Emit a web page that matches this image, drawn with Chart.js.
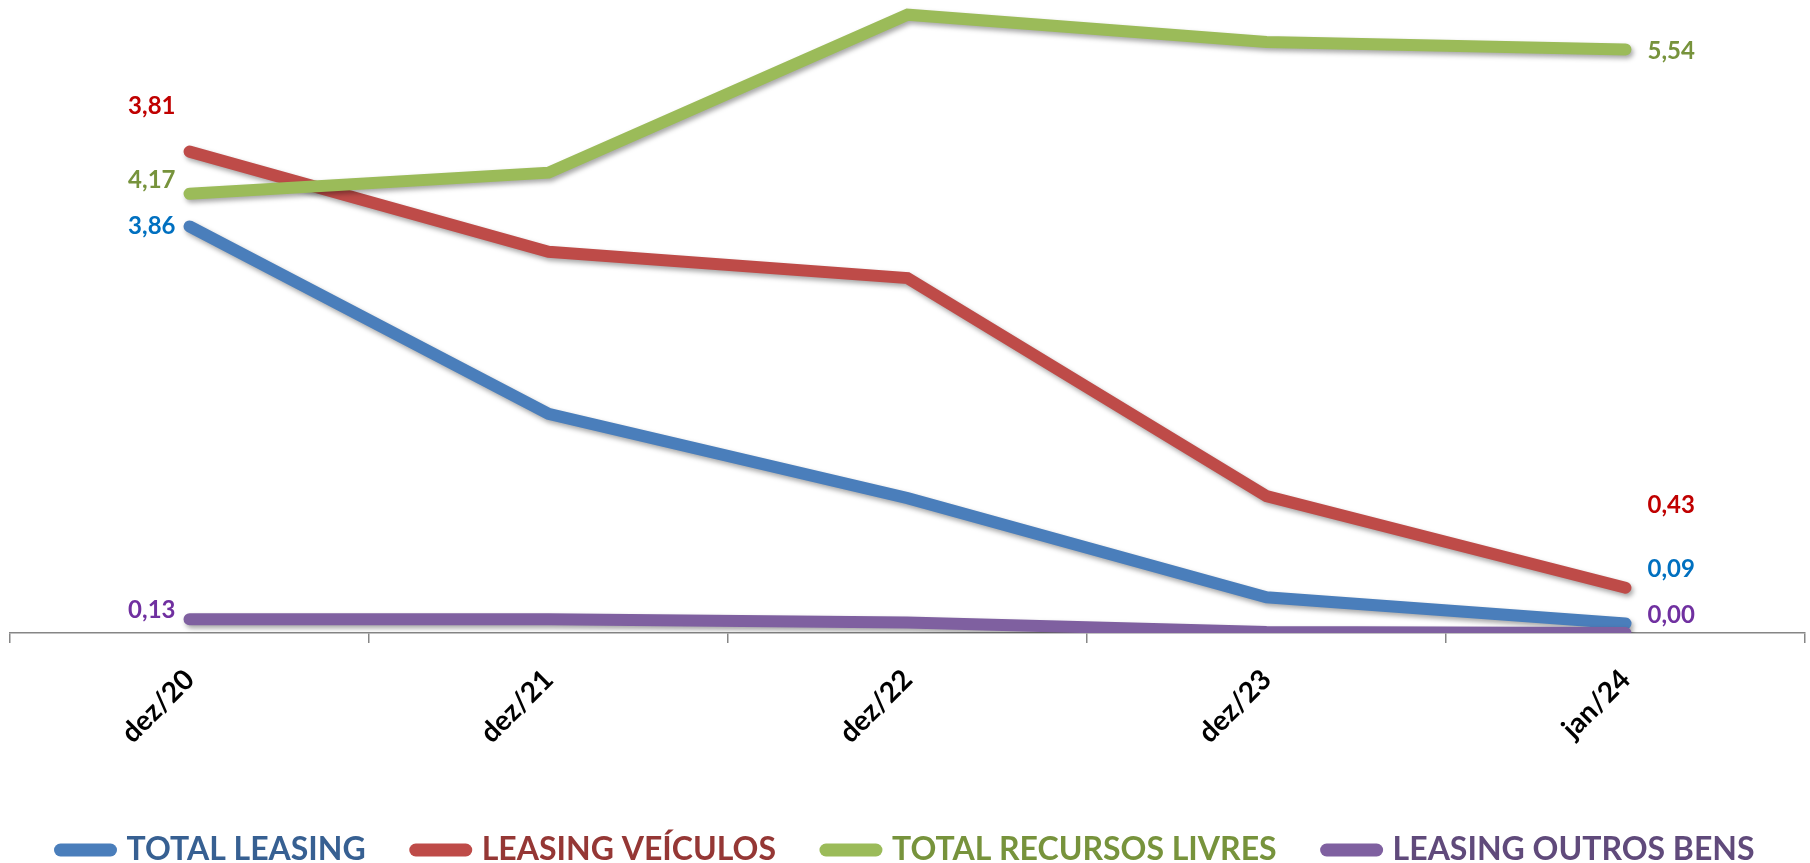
<!DOCTYPE html>
<html>
<head>
<meta charset="utf-8">
<script src="https://cdn.jsdelivr.net/npm/chart.js@4.4.1/dist/chart.umd.min.js"></script>
<style>
  body { margin: 0; background: #fff; }
  #box { width: 1810px; height: 863px; }
</style>
</head>
<body>
<div id="box"><canvas id="chart"></canvas></div>
<script>
// dados
const categorias = ["dez/20", "dez/21", "dez/22", "dez/23", "jan/24"];
const totalLeasing = [3.86, 2.08, 1.28, 0.34, 0.09];
const leasingVeiculos = [4.57, 3.62, 3.37, 1.30, 0.43];
const totalRecursosLivres = [4.17, 4.37, 5.87, 5.61, 5.54];
const leasingOutrosBens = [0.13, 0.13, 0.10, 0.01, 0.00];

// rótulos do primeiro e do último ponto (como aparecem no gráfico)
const rotulosTotalLeasing = ["3,86", "0,09"];
const rotulosVeiculos = ["3,81", "0,43"];
const rotulosRecursos = ["4,17", "5,54"];
const rotulosOutros = ["0,13", "0,00"];

// cores
const coresLinha = ["#4A7EBB", "#BE4B48", "#9BBB59", "#7F60A0"];
const coresLegenda = ["#376092", "#953735", "#77933C", "#604A7B"];
const coresRotulo = ["#0070C0", "#C00000", "#77933C", "#7030A0"];

// deslocamento vertical dos rótulos (inicio, fim)
const ajusteRotulos = [[0, -54], [-45, -82], [-13, 2], [-9, -18]];

function serie(label, data, i, ordem) {
    return {
        label: label,
        data: data,
        borderColor: coresLinha[i],
        backgroundColor: coresLinha[i],
        borderWidth: 12,
        borderCapStyle: "round",
        pointRadius: 0,
        tension: 0,
        order: ordem
    };
}

// sombra das linhas, estilo Excel
const sombra = {
    id: "sombra",
    beforeDatasetDraw(chart) {
        const ctx = chart.ctx;
        ctx.save();
        ctx.shadowColor = "rgba(0,0,0,0.35)";
        ctx.shadowBlur = 5;
        ctx.shadowOffsetX = 2;
        ctx.shadowOffsetY = 3;
    },
    afterDatasetDraw(chart) {
        chart.ctx.restore();
    }
};

// rótulos nas pontas
const rotulos = {
    id: "rotulos",
    afterDatasetsDraw(chart) {
        const ctx = chart.ctx;
        const textos = [rotulosTotalLeasing, rotulosVeiculos, rotulosRecursos, rotulosOutros];
        ctx.save();
        ctx.font = "bold 24px Lato";
        ctx.textBaseline = "middle";
        chart.data.datasets.forEach((ds, i) => {
            const pts = chart.getDatasetMeta(i).data;
            const p0 = pts[0];
            const p1 = pts[pts.length - 1];
            ctx.fillStyle = coresRotulo[i];
            ctx.textAlign = "right";
            ctx.fillText(textos[i][0], p0.x - 14, p0.y + ajusteRotulos[i][0]);
            ctx.textAlign = "left";
            ctx.fillText(textos[i][1], p1.x + 22, p1.y + ajusteRotulos[i][1]);
        });
        ctx.restore();
    }
};

const ctx = document.getElementById("chart").getContext("2d");
new Chart(ctx, {
    type: "line",
    data: {
        labels: categorias,
        datasets: [
            serie("TOTAL LEASING", totalLeasing, 0, 4),
            serie("LEASING VEÍCULOS", leasingVeiculos, 1, 3),
            serie("TOTAL RECURSOS LIVRES", totalRecursosLivres, 2, 2),
            serie("LEASING OUTROS BENS", leasingOutrosBens, 3, 1)
        ]
    },
    options: {
        responsive: true,
        maintainAspectRatio: false,
        animation: false,
        layout: { padding: { left: 10, right: 5, top: 1, bottom: -13 } },
        scales: {
            x: {
                offset: true,
                grid: { offset: true, drawOnChartArea: false, tickLength: 10, color: "#868686", lineWidth: 1.5 },
                border: { color: "#868686", width: 1.5 },
                ticks: {
                    color: "#000",
                    font: { family: "Lato", size: 28, weight: "bold" },
                    minRotation: 45,
                    maxRotation: 45,
                    padding: 20
                },
                afterFit(scale) { scale.height = 151; }
            },
            y: { display: false, min: 0, max: 6 }
        },
        plugins: {
            tooltip: { enabled: false },
            legend: {
                position: "bottom",
                labels: {
                    font: { family: "Lato", size: 32, weight: "bold" },
                    usePointStyle: true,
                    pointStyleWidth: 50,
                    padding: 50,
                    sort: (a, b) => a.datasetIndex - b.datasetIndex,
                    generateLabels(chart) {
                        const itens = Chart.defaults.plugins.legend.labels.generateLabels(chart);
                        itens.forEach(it => {
                            it.pointStyle = "line";
                            it.lineWidth = 13;
                            it.lineCap = "round";
                            it.fontColor = coresLegenda[it.datasetIndex];
                        });
                        return itens;
                    }
                }
            }
        }
    },
    plugins: [sombra, rotulos]
});
</script>
</body>
</html>
